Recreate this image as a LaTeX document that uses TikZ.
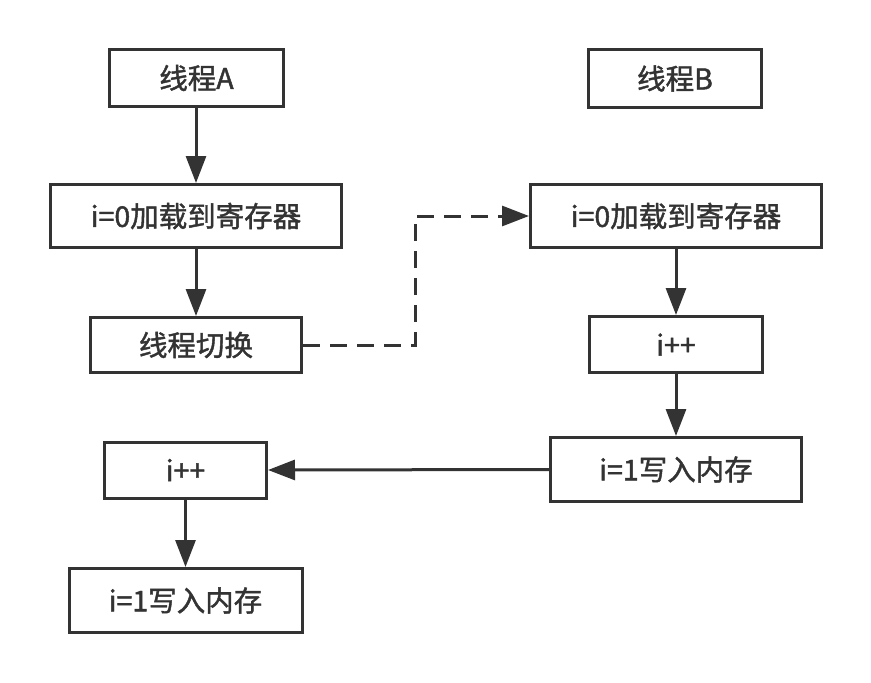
\documentclass[tikz,border=0pt]{standalone}
\usepackage{fontspec}
\setmainfont{Noto Sans CJK SC}[RawFeature={embolden=1.5}]
\usetikzlibrary{arrows.meta}
\definecolor{ink}{HTML}{333333}
\tikzset{
  box/.style={draw=ink, line width=3pt, text=ink, inner sep=0pt, font=\fontsize{28.5}{32}\selectfont},
  flow/.style={draw=ink, line width=3pt, -{Triangle[length=27pt,width=20pt]}},
  dflow/.style={flow, dash pattern=on 17pt off 10pt}
}
\begin{document}
\begin{tikzpicture}[x=1pt,y=-1pt]
\useasboundingbox (0,0) rectangle (871,683);
\node[box, minimum width=174pt, minimum height=57pt] (A) at (196.5,78) {线程A};
\node[box, minimum width=173pt, minimum height=58pt] (B) at (675,78.5) {线程B};
\node[box, minimum width=291pt, minimum height=63pt] (L1) at (196,216) {i=0加载到寄存器};
\node[box, minimum width=291pt, minimum height=63pt] (R1) at (676,216) {i=0加载到寄存器};
\node[box, minimum width=211pt, minimum height=55pt] (SW) at (196,345) {线程切换};
\node[box, minimum width=173pt, minimum height=56pt] (R2) at (676,344.5) {i++};
\node[box, minimum width=251pt, minimum height=64pt] (R3) at (676,469.5) {i=1写入内存};
\node[box, minimum width=162pt, minimum height=56pt] (L3) at (185.5,470) {i++};
\node[box, minimum width=233pt, minimum height=64pt] (L4) at (185.5,600.5) {i=1写入内存};
\draw[flow] (A.south -| L1.north) -- (L1.north);
\draw[flow] (L1.south -| SW.north) -- (SW.north);
\draw[flow] (R1.south) -- (R2.north);
\draw[flow] (R2.south) -- (R3.north);
\draw[flow] (R3.west) -- (L3.east);
\draw[flow] (L3.south) -- (L4.north);
\draw[dflow] (SW.east) -- ++(112,0) |- (R1.west);
\end{tikzpicture}
\end{document}
